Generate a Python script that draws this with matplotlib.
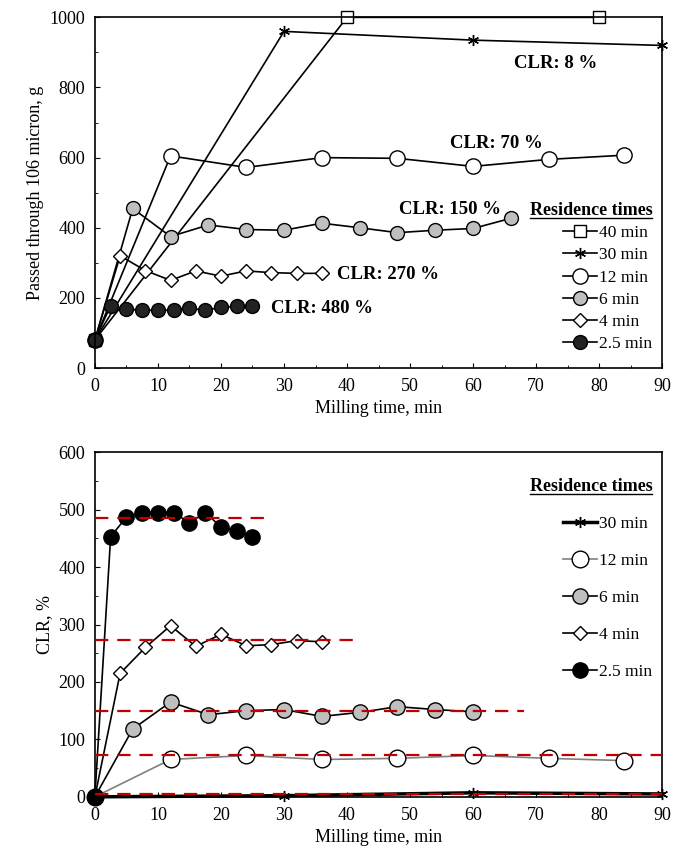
import matplotlib.pyplot as plt
from matplotlib.lines import Line2D

plt.rcParams['font.family'] = ['Liberation Serif', 'DejaVu Serif']
plt.rcParams['font.size'] = 13

# top panel: passed through 106 micron, g
t40 = [0, 40, 80]
p40 = [80, 1000, 1000]
t30 = [0, 30, 60, 90]
p30 = [80, 960, 935, 920]
t12 = [0, 12, 24, 36, 48, 60, 72, 84]
p12 = [80, 605, 572, 600, 598, 575, 595, 607]
t6 = [0, 6, 12, 18, 24, 30, 36, 42, 48, 54, 60, 66]
p6 = [80, 455, 375, 408, 395, 393, 413, 400, 386, 393, 398, 427]
t4 = [0, 4, 8, 12, 16, 20, 24, 28, 32, 36]
p4 = [80, 320, 278, 250, 277, 262, 277, 272, 270, 270]
t25 = [0, 2.5, 5, 7.5, 10, 12.5, 15, 17.5, 20, 22.5, 25]
p25 = [80, 178, 168, 165, 165, 165, 170, 165, 173, 176, 178]
clr_labels = ['CLR: 8 %', 'CLR: 70 %', 'CLR: 150 %', 'CLR: 270 %', 'CLR: 480 %']
label_x = [66.5, 56.4, 48.2, 38.4, 27.9]
label_y = [869, 641, 451, 266, 171]

# bottom panel: CLR, %
c30 = [0, 2, 7, 5]
c12 = [0, 65, 72, 65, 67, 72, 67, 63]
t6b = [0, 6, 12, 18, 24, 30, 36, 42, 48, 54, 60]
c6 = [0, 118, 165, 143, 150, 152, 140, 147, 157, 152, 148]
c4 = [0, 215, 260, 298, 262, 283, 263, 265, 272, 270]
c25 = [0, 453, 487, 495, 495, 495, 477, 495, 470, 463, 453]
clr_avg = [485, 273, 150, 72, 5]
clr_end = [28, 41, 68, 90, 90]

fig = plt.figure(figsize=(6.73, 8.68), dpi=100)
ax1 = fig.add_axes([0.141, 0.576, 0.843, 0.404])
ax2 = fig.add_axes([0.141, 0.082, 0.843, 0.397])

kw = dict(color='black', lw=1.2, mec='black')
ax1.plot(t40, p40, marker='s', mfc='white', ms=8, label='40 min', **kw)
ax1.plot(t30, p30, marker=(6, 2, 0), ms=8, label='30 min', **kw)
ax1.plot(t12, p12, marker='o', mfc='white', ms=11, label='12 min', **kw)
ax1.plot(t6, p6, marker='o', mfc='#bfbfbf', ms=10, label='6 min', **kw)
ax1.plot(t4, p4, marker='D', mfc='white', ms=7, label='4 min', **kw)
ax1.plot(t25, p25, marker='o', mfc='#222222', ms=10, label='2.5 min', **kw)

for x, y, s in zip(label_x, label_y, clr_labels):
    ax1.text(x, y, s, fontweight='bold', fontsize=13.5, ha='left', va='center')

ax1.set_xlim(0, 90)
ax1.set_ylim(0, 1000)
ax1.set_yticks(range(0, 1001, 200))
ax1.set_yticks(range(0, 1001, 100), minor=True)
ax1.set_xticks(range(0, 91, 10))
ax1.set_xticks(range(0, 91, 5), minor=True)
ax1.set_xlabel('Milling time, min')
ax1.set_ylabel('Passed through 106 micron, g')
leg = ax1.legend(loc='lower right', title='Residence times', frameon=False,
                 fontsize=12.5, handlelength=2, handletextpad=0.1, labelspacing=0.35,
                 bbox_to_anchor=(1.01, 0.0))

ax2.plot(t30, c30, marker=(6, 2, 0), ms=8, label='30 min', color='black', lw=2.5, mec='black')
ax2.plot(t12, c12, marker='o', mfc='white', ms=12, label='12 min', color='gray', lw=1.2, mec='black')
ax2.plot(t6b, c6, marker='o', mfc='#bfbfbf', ms=11, label='6 min', **kw)
ax2.plot(t4, c4, marker='D', mfc='white', ms=7, label='4 min', **kw)
ax2.plot(t25, c25, marker='o', mfc='black', ms=11, label='2.5 min', **kw)
for y, e in zip(clr_avg, clr_end):
    ax2.plot([0, e], [y, y], ls=(0, (6, 4)), color='#c00000', lw=1.6, zorder=3)

ax2.set_xlim(0, 90)
ax2.set_ylim(0, 600)
ax2.set_yticks(range(0, 601, 100))
ax2.set_yticks(range(0, 601, 50), minor=True)
ax2.set_xticks(range(0, 91, 10))
ax2.set_xticks(range(0, 91, 5), minor=True)
ax2.set_xlabel('Milling time, min')
ax2.set_ylabel('CLR, %')
leg2 = ax2.legend(loc='upper right', title='Residence times', frameon=False,
                  fontsize=12.5, handlelength=2, handletextpad=0.1, labelspacing=1.2,
                  bbox_to_anchor=(1.01, 0.97))

for lg in (leg, leg2):
    lg._legend_box.align = 'right'
    lg.get_title().set_fontweight('bold')
    lg.get_title().set_fontsize(13)

for ax in (ax1, ax2):
    ax.tick_params(which='both', direction='in', top=False, right=False, pad=7)
    for sp in ax.spines.values():
        sp.set_linewidth(1.2)
    for c in ax.get_children():
        c.set_clip_on(False)

# underline the legend titles
fig.canvas.draw()
inv = fig.transFigure.inverted()
for lg in (leg, leg2):
    bb = lg.get_title().get_window_extent().transformed(inv)
    fig.add_artist(Line2D([bb.x0, bb.x1], [bb.y0 + 0.001, bb.y0 + 0.001], color='black', lw=1))

fig.savefig('out.png', dpi=100)
